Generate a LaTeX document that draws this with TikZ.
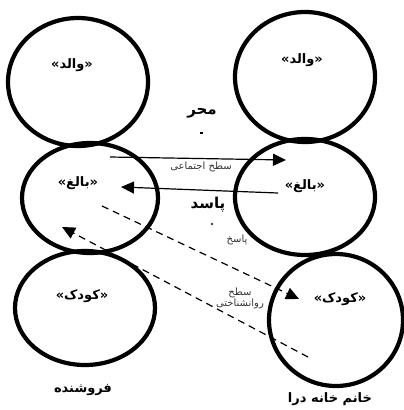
\documentclass[tikz,border=0pt]{standalone}
\usepackage{fontspec}
\setmainfont{DejaVu Sans}
\newfontfamily\arabicfont[Script=Arabic]{DejaVu Sans}
\TeXXeTstate=1
\usetikzlibrary{arrows.meta}
\begin{document}
\begin{tikzpicture}[x=1pt,y=-1pt,
  ring/.style={line width=4.2pt},
  lbl/.style={font=\arabicfont\bfseries\fontsize{13}{15}\selectfont},
  big/.style={font=\arabicfont\bfseries\fontsize{15}{17}\selectfont},
  small/.style={font=\arabicfont\fontsize{10}{11}\selectfont,text=black!80,align=center},
  arr/.style={line width=1.2pt,-{Triangle[length=13pt,width=12pt]}},
  darr/.style={line width=1.2pt,dash pattern=on 7pt off 5pt,-{Triangle[length=13pt,width=12pt]}}]
\useasboundingbox (0,0) rectangle (404,410);
% ellipses
\draw[ring] (78,82) ellipse [x radius=70, y radius=64];
\draw[ring] (90,198) ellipse [x radius=68, y radius=55];
\draw[ring] (85,308) ellipse [x radius=70, y radius=57];
\draw[ring] (305,77) ellipse [x radius=70, y radius=65];
\draw[ring] (305,197) ellipse [x radius=70, y radius=58];
\draw[ring] (336,320) ellipse [x radius=67, y radius=66];
% labels
\node[lbl] (pl) at (72,65) {»\beginR والد\endR«};
\node[lbl] (pr) at (302,60) {»\beginR والد\endR«};
\node[lbl] (al) at (78,183) {»\beginR بالغ\endR«};
\node[lbl] (ar) at (305,186) {»\beginR بالغ\endR«};
\node[lbl] (cl) at (82,296) {»\beginR کودک\endR«};
\node[lbl] (cr) at (340,299) {»\beginR کودک\endR«};
\node[big] (t1) at (202,113) {\beginR محر\endR};
\node[big] (t2) at (208,205) {\beginR پاسد\endR};
\node[small] (s1) at (201,167) {\beginR سطح اجتماعی\endR};
\node[small] (s2) at (237,240) {\beginR پاسخ\endR};
\node[small] (s3) at (240,298) {\beginR سطح\endR\\\beginR روانشناختی\endR};
\node[lbl] (n1) at (83,390) {\beginR فروشنده\endR};
\node[lbl] (n2) at (330,399) {\beginR خانم خانه درا\endR};
\fill (200,131.5) rectangle (203,133.5);
\fill (212,224) circle (1.2);
% connectors
\coordinate (a1) at (110,157);
\coordinate (a2) at (286,160);
\coordinate (b1) at (278,193);
\coordinate (b2) at (121,187);
\coordinate (c1) at (102,206);
\coordinate (c2) at (299,299);
\coordinate (d1) at (308,357);
\coordinate (d2) at (62,227);
\draw[arr] (a1) -- (a2);
\draw[arr] (b1) -- (b2);
\draw[darr] (c1) -- (c2);
\draw[darr] (d1) -- (d2);
\end{tikzpicture}
\end{document}
